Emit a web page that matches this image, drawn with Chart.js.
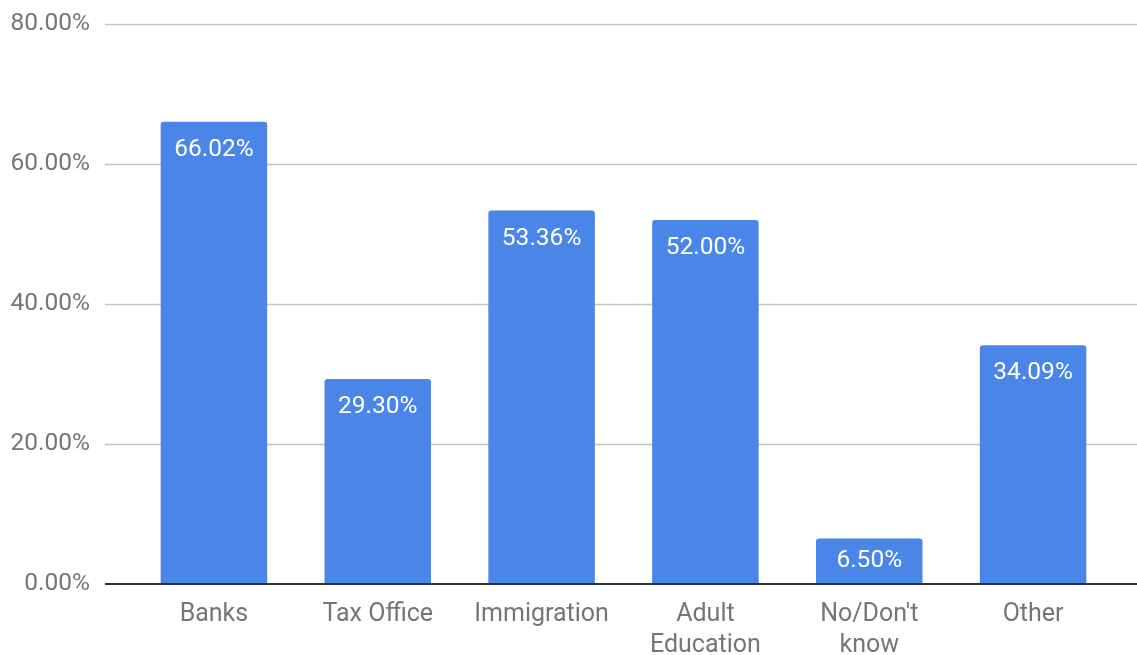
<!DOCTYPE html>
<html>
<head>
<meta charset="utf-8">
<script src="https://cdn.jsdelivr.net/npm/chart.js@4"></script>
<style>
  html, body { margin: 0; padding: 0; background: #fff; }
  #wrap { width: 1137px; height: 655px; }
</style>
</head>
<body>
<div id="wrap"><canvas id="chart"></canvas></div>
<script>
const categories = ["Banks", "Tax Office", "Immigration", ["Adult", "Education"], ["No/Don't", "know"], "Other"];
const shares = [66.02, 29.30, 53.36, 52.00, 6.50, 34.09];
const yTicks = [0, 20, 40, 60, 80];

const fmt = (v) => v.toFixed(2) + "%";

// horizontal grid, running the full width of the canvas
const gridLines = {
  id: "gridLines",
  beforeDatasetsDraw(chart) {
    const y = chart.scales.y;
    const ctx = chart.ctx;
    ctx.save();
    ctx.strokeStyle = "#c2c2c2";
    ctx.lineWidth = 1.5;
    for (const t of yTicks) {
      if (t === 0) continue;
      const py = Math.round(y.getPixelForValue(t)) + 0.5;
      ctx.beginPath();
      ctx.moveTo(105, py);
      ctx.lineTo(chart.width, py);
      ctx.stroke();
    }
    ctx.restore();
  },
  afterDatasetsDraw(chart) {
    const y = chart.scales.y;
    const ctx = chart.ctx;
    ctx.save();
    ctx.strokeStyle = "#333333";
    ctx.lineWidth = 2;
    const py = y.getPixelForValue(0);
    ctx.beginPath();
    ctx.moveTo(105, py);
    ctx.lineTo(chart.width, py);
    ctx.stroke();

    // value labels inside the top of each bar
    const meta = chart.getDatasetMeta(0);
    ctx.fillStyle = "#ffffff";
    ctx.font = "24.5px Roboto";
    ctx.textAlign = "center";
    ctx.textBaseline = "middle";
    meta.data.forEach((bar, i) => {
      const cy = Math.min(bar.y + 28, (bar.y + bar.base) / 2);
      ctx.fillText(fmt(shares[i]), bar.x, cy);
    });
    ctx.restore();
  }
};

new Chart(document.getElementById("chart"), {
  type: "bar",
  data: {
    labels: categories,
    datasets: [{
      data: shares,
      backgroundColor: "#4a86e8",
      barPercentage: 0.65,
      categoryPercentage: 1,
      borderRadius: { topLeft: 3, topRight: 3 },
      borderSkipped: "start"
    }]
  },
  options: {
    responsive: true,
    maintainAspectRatio: false,
    animation: false,
    layout: { padding: { top: 24, right: 22, bottom: 0, left: 0 } },
    plugins: { legend: { display: false }, tooltip: { enabled: false } },
    scales: {
      x: {
        grid: { display: false, drawTicks: false },
        border: { display: false },
        ticks: {
          color: "#757575",
          font: { family: "Roboto", size: 25, lineHeight: 1.24 },
          padding: 15,
          maxRotation: 0,
          autoSkip: false
        },
        afterFit(scale) {
          scale.height = 71;
          scale.paddingLeft = 0;
          scale.paddingRight = 0;
        }
      },
      y: {
        min: 0,
        max: 80,
        grid: { display: false, drawTicks: false },
        border: { display: false },
        ticks: {
          stepSize: 20,
          color: "#757575",
          font: { family: "Roboto", size: 24.5 },
          padding: 42,
          callback: (v) => fmt(v)
        },
        afterFit(scale) {
          scale.width = 132;
          scale.paddingTop = 0;
          scale.paddingBottom = 0;
        }
      }
    }
  },
  plugins: [gridLines]
});
</script>
</body>
</html>
